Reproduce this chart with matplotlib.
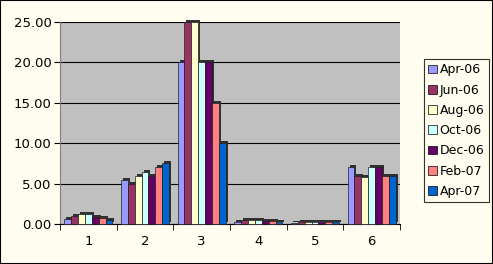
import numpy as np
from matplotlib import pyplot as plt
from matplotlib.patches import Patch
import matplotlib.transforms as mtransforms

categories = ["1", "2", "3", "4", "5", "6"]
series_names = ["Apr-06", "Jun-06", "Aug-06", "Oct-06", "Dec-06", "Feb-07", "Apr-07"]
apr06 = [0.6, 5.5, 20.0, 0.3, 0.1, 7.0]
jun06 = [1.0, 5.0, 25.0, 0.5, 0.2, 6.0]
aug06 = [1.2, 6.0, 25.0, 0.5, 0.2, 5.8]
oct06 = [1.2, 6.4, 20.0, 0.5, 0.3, 7.0]
dec06 = [0.9, 6.0, 20.0, 0.4, 0.3, 7.0]
feb07 = [0.7, 7.0, 15.0, 0.4, 0.3, 6.0]
apr07 = [0.5, 7.5, 10.0, 0.3, 0.3, 6.0]
series = [apr06, jun06, aug06, oct06, dec06, feb07, apr07]
colors = ["#9999FF", "#993366", "#FFFFCC", "#CCFFFF", "#660066", "#FF8080", "#0066CC"]

BG = "#FFFCF0"

fig = plt.figure(figsize=(4.93, 2.64), dpi=100, facecolor=BG)
ax = fig.add_axes([60 / 493, 1 - 224 / 264, 340 / 493, 202 / 264])
ax.set_facecolor("#C0C0C0")

x = np.arange(1, len(categories) + 1)
n = len(series)
w = 0.85 / n
# small depth offset to mimic the 3-D look
shift = mtransforms.ScaledTranslation(2 / 100, 2 / 100, fig.dpi_scale_trans)
for i, (vals, c) in enumerate(zip(series, colors)):
    pos = x - 0.425 + w * (i + 0.5)
    ax.bar(pos, vals, width=w, color="#303030", edgecolor="none",
           transform=ax.transData + shift, zorder=2, clip_on=False)
    ax.bar(pos, vals, width=w, color=c, edgecolor="#202020", linewidth=0.5,
           zorder=3, clip_on=False)

ax.set_xlim(0.5, 6.5)
ax.set_ylim(0, 25)
ax.set_yticks(np.arange(0, 26, 5))
ax.set_yticklabels([f"{v:.2f}" for v in np.arange(0, 26, 5)], fontsize=9.5)
ax.set_xticks(x)
ax.set_xticklabels(categories, fontsize=9.5)
ax.set_xticks(np.arange(0.5, 6.6, 1), minor=True)
ax.tick_params(axis="x", which="major", length=0, pad=8)
ax.tick_params(axis="x", which="minor", length=4, direction="out")
ax.tick_params(axis="y", length=4, direction="out", pad=2)
ax.yaxis.grid(True, color="black", linewidth=0.8, zorder=1)
ax.set_axisbelow(True)
for s in ["top", "right"]:
    ax.spines[s].set_visible(False)
ax.spines["left"].set_color("#808080")
ax.spines["bottom"].set_color("black")

handles = [Patch(facecolor=c, edgecolor="black", linewidth=0.5) for c in colors]
leg = fig.legend(handles, series_names, loc="upper left",
                 bbox_to_anchor=(424 / 493, 1 - 59 / 264), fontsize=9,
                 frameon=True, fancybox=False, handlelength=0.7,
                 handleheight=0.7, handletextpad=0.2, labelspacing=0.58,
                 borderpad=0.35, borderaxespad=0)
leg.get_frame().set_edgecolor("black")
leg.get_frame().set_facecolor(BG)
leg.get_frame().set_linewidth(0.8)

fig.patches.append(plt.Rectangle((0, 0), 1, 1, transform=fig.transFigure,
                                 fill=False, edgecolor="black", linewidth=1.5))

fig.savefig("out.png", dpi=100, facecolor=BG)
